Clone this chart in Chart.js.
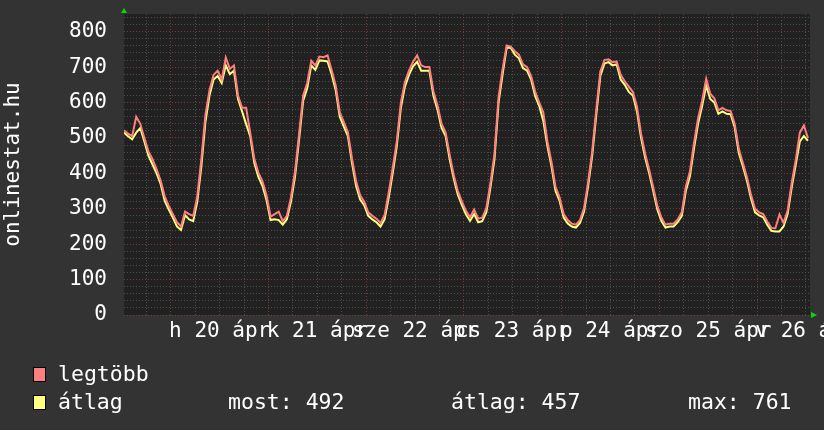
<!DOCTYPE html>
<html>
<head>
<meta charset="utf-8">
<script src="https://cdn.jsdelivr.net/npm/chart.js@4/dist/chart.umd.min.js"></script>
<style>
  body { margin: 0; background: #333333; }
  #wrap { width: 824px; height: 430px; }
</style>
</head>
<body>
<div id="wrap"><canvas id="myChart" width="824" height="430"></canvas></div>
<script>
// hours since 19 Apr 00:00, one sample per hour
const hours = Array.from({length: 169}, (_, i) => 12.5 + i);

// átlag (average)
const avgValues = [
  515,505,496,515,528,490,450,425,400,370,
  322,298,275,250,240,282,270,265,320,420,
  545,620,665,675,655,705,680,690,610,575,
  539,505,430,390,365,325,268,270,268,255,
  270,320,390,495,605,640,705,692,719,718,
  716,680,635,560,532,505,430,365,326,310,
  280,270,262,250,270,330,400,477,585,645,
  678,702,715,690,690,690,619,580,528,505,
  440,385,340,310,284,266,285,262,265,290,
  360,440,600,680,755,755,735,725,697,690,
  665,618,590,548,477,420,350,322,275,258,
  250,247,260,292,364,450,565,675,710,714,
  705,708,665,650,630,620,575,500,445,400,
  350,298,265,247,250,250,262,280,350,392,
  470,540,590,648,610,600,568,575,568,567,
  530,458,420,380,330,290,281,276,255,238,
  236,236,250,285,360,425,490,505,492
];

// legtöbb (max)
const maxValues = [
  522,512,505,560,540,500,462,440,412,380,
  335,308,285,262,250,292,285,280,335,440,
  565,635,678,690,665,727,695,705,620,585,
  585,515,442,402,378,338,278,285,292,265,
  280,332,405,510,620,655,718,705,730,728,
  733,692,648,572,545,516,442,378,338,320,
  290,280,272,260,282,345,415,490,600,658,
  690,715,733,705,700,700,632,592,540,515,
  452,395,350,320,294,276,298,272,275,302,
  372,455,615,695,761,758,745,735,708,700,
  675,630,600,572,490,432,362,332,285,268,
  258,255,268,302,375,462,580,688,720,722,
  714,716,678,660,645,630,588,512,456,410,
  360,308,275,255,258,258,270,290,362,405,
  485,555,605,667,625,612,578,585,578,576,
  540,470,430,390,340,300,290,285,264,246,
  245,284,260,295,372,438,515,535,500
];

const dayLabels = ['h 20 ápr', 'k 21 ápr', 'sze 22 ápr', 'cs 23 ápr', 'p 24 ápr', 'szo 25 ápr', 'v 26 ápr'];
const legendNames = ['legtöbb', 'átlag'];
const legendStats = ['most: 492', 'átlag: 457', 'max: 761'];

const RED = '#ff7f7f';
const YELLOW = '#ffff80';
const FONT = 'DejaVu Sans Mono';

const data = {
  labels: hours,
  datasets: [{
    label: legendNames[0],
    data: maxValues,
    borderColor: RED,
    borderWidth: 2,
    pointRadius: 0,
    tension: 0
  }, {
    label: legendNames[1],
    data: avgValues,
    borderColor: YELLOW,
    borderWidth: 2,
    pointRadius: 0,
    tension: 0
  }]
};

// dark plot background + green arrows + bottom legend
const rrdLook = {
  id: 'rrdLook',
  beforeDraw(chart) {
    const ctx = chart.ctx, a = chart.chartArea;
    ctx.save();
    ctx.fillStyle = '#333333';
    ctx.fillRect(0, 0, chart.width, chart.height);
    ctx.fillStyle = '#212121';
    ctx.fillRect(a.left, a.top, a.right - a.left, a.bottom - a.top);
    ctx.restore();
  },
  afterDraw(chart) {
    const ctx = chart.ctx, a = chart.chartArea;
    ctx.save();
    ctx.fillStyle = '#00dd00';
    ctx.beginPath();
    ctx.moveTo(a.left - 3, a.top - 1);
    ctx.lineTo(a.left + 3, a.top - 1);
    ctx.lineTo(a.left, a.top - 6);
    ctx.closePath();
    ctx.fill();
    ctx.beginPath();
    ctx.moveTo(a.right + 1, a.bottom - 3);
    ctx.lineTo(a.right + 1, a.bottom + 3);
    ctx.lineTo(a.right + 7, a.bottom);
    ctx.closePath();
    ctx.fill();

    // legend swatches
    const sw = [[RED, 367], [YELLOW, 395]];
    sw.forEach(([c, y]) => {
      ctx.fillStyle = c;
      ctx.fillRect(33, y, 13, 15);
      ctx.strokeStyle = '#000000';
      ctx.lineWidth = 1;
      ctx.strokeRect(33.5, y + 0.5, 12, 14);
    });

    // legend text
    ctx.fillStyle = '#ffffff';
    ctx.font = '21.5px "' + FONT + '"';
    ctx.textBaseline = 'alphabetic';
    ctx.fillText(legendNames[0], 58, 381);
    ctx.fillText(legendNames[1], 58, 409);
    ctx.fillText(legendStats[0], 228, 409);
    ctx.fillText(legendStats[1], 451, 409);
    ctx.fillText(legendStats[2], 688, 409);
    ctx.restore();
  }
};

const config = {
  type: 'line',
  data,
  options: {
    responsive: false,
    animation: false,
    devicePixelRatio: 1,
    layout: { padding: { top: 14, right: 14, left: 0, bottom: 0 } },
    plugins: {
      legend: { display: false },
      tooltip: { enabled: false }
    },
    scales: {
      x: {
        type: 'linear',
        min: 12.5,
        max: 181,
        afterBuildTicks: (scale) => {
          const t = [];
          for (let v = 18; v <= 180; v += 6) t.push({ value: v });
          scale.ticks = t;
        },
        afterFit: (scale) => {
          scale.height = 115;
          scale.paddingLeft = 0;
          scale.paddingRight = 0;
        },
        ticks: {
          autoSkip: false,
          maxRotation: 0,
          minRotation: 0,
          padding: 4,
          color: '#ffffff',
          font: { family: FONT, size: 21 },
          callback: (v) => (v % 24 === 12 && v >= 36) ? dayLabels[(v - 36) / 24] : ''
        },
        grid: {
          drawTicks: false,
          lineWidth: 1,
          color: (c) => (c.tick && c.tick.value % 24 === 0) ? '#7a3a3a' : '#4e4e4e'
        },
        border: { display: false, dash: [1, 2] }
      },
      y: {
        min: 0,
        max: 850,
        afterBuildTicks: (scale) => {
          const t = [];
          for (let v = 0; v <= 840; v += 20) t.push({ value: v });
          scale.ticks = t;
        },
        afterFit: (scale) => {
          scale.width = 124;
          scale.paddingTop = 0;
          scale.paddingBottom = 0;
        },
        ticks: {
          autoSkip: false,
          padding: 17,
          color: '#ffffff',
          font: { family: FONT, size: 21 },
          callback: (v) => (v % 100 === 0) ? String(v) : ''
        },
        grid: {
          drawTicks: false,
          lineWidth: 1,
          color: (c) => (c.tick && c.tick.value % 100 === 0) ? '#7a3a3a' : '#4e4e4e'
        },
        border: { display: false, dash: [1, 2] },
        title: {
          display: true,
          text: 'onlinestat.hu',
          color: '#ffffff',
          font: { family: FONT, size: 21 },
          padding: { top: 1, bottom: 0 }
        }
      }
    }
  },
  plugins: [rrdLook]
};

const myChart = new Chart(document.getElementById('myChart'), config);
</script>
</body>
</html>
